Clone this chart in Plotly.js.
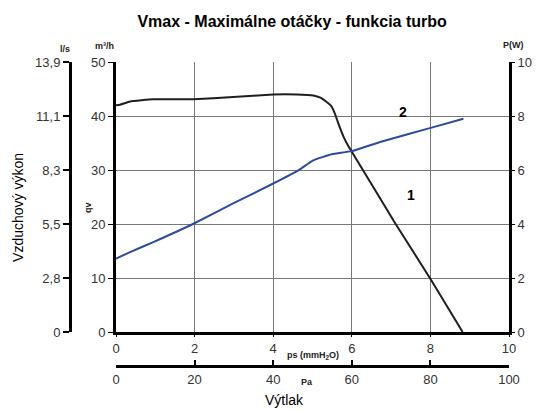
<!DOCTYPE html>
<html><head><meta charset="utf-8">
<script src="https://cdn.plot.ly/plotly-3.0.1.min.js"></script>
<style>html,body{margin:0;padding:0;background:#fff}#chart{width:536px;height:410px}</style>
</head><body><div id="chart"></div>
<script>
// Air flow curve (1): static pressure ps (mmH2O) vs qv (m3/h)
const flowPs = [0, 0.1, 0.36, 0.95, 1.97, 2.98, 4.0, 4.6, 5.02, 5.2, 5.36, 5.47, 5.55, 5.62, 5.7, 5.8, 5.9, 6.0, 7.1, 8.03, 8.82];
const flowQv = [42.0, 42.1, 42.7, 43.1, 43.1, 43.5, 44.0, 44.0, 43.8, 43.4, 42.6, 41.9, 40.8, 39.4, 37.8, 36.0, 34.6, 33.4, 20.2, 9.5, 0];
// Power curve (2): ps (mmH2O) vs P (W)
const powerPs = [0, 0.36, 0.95, 1.97, 2.98, 4.0, 4.64, 5.02, 5.49, 6.0, 6.72, 8.03, 8.84];
const powerW = [2.72, 2.96, 3.33, 4.01, 4.76, 5.5, 5.99, 6.36, 6.58, 6.70, 7.04, 7.57, 7.9];
// Axis tick labels
const qvTicks = [0, 10, 20, 30, 40, 50];
const lsTickText = ["0", "2,8", "5,5", "8,3", "11,1", "13,9"];
const psTicks = [0, 2, 4, 6, 8, 10];
const paTicks = [0, 20, 40, 60, 80, 100];
const pwTicks = [0, 2, 4, 6, 8, 10];

const FONT = "Liberation Sans, Arial, sans-serif";
const tickFont = {family: FONT, size: 13, color: "#333"};
const dom = [34/304, 1];

const traces = [
  {x: flowPs, y: flowQv, type: "scatter", mode: "lines", xaxis: "x", yaxis: "y",
   line: {color: "#1e1e1e", width: 2, shape: "spline", smoothing: 0.3}, showlegend: false, hoverinfo: "skip"},
  {x: powerPs, y: powerW, type: "scatter", mode: "lines", xaxis: "x", yaxis: "y2",
   line: {color: "#2b4c9b", width: 2, shape: "spline", smoothing: 0.4}, showlegend: false, hoverinfo: "skip"},
  // invisible helper trace so the secondary Pa and l/s axes are drawn
  {x: paTicks, y: qvTicks, type: "scatter", mode: "markers", xaxis: "x2", yaxis: "y3",
   marker: {opacity: 0}, showlegend: false, hoverinfo: "skip"}
];

function ann(text, x, y, size, extra) {
  return Object.assign({text: text, xref: "paper", yref: "paper", x: x, y: y, showarrow: false,
    xanchor: "center", yanchor: "middle", font: {family: FONT, size: size, color: size < 12 ? "#222" : "#000"}}, extra || {});
}

const layout = {
  width: 536, height: 410,
  margin: {l: 60, r: 27, t: 62, b: 44},
  paper_bgcolor: "#fff", plot_bgcolor: "#fff",
  font: {family: FONT},
  title: {text: "<b>Vmax - Maximálne otáčky - funkcia turbo</b>", font: {family: FONT, size: 16, color: "#000"},
          x: 0.545, xanchor: "center", y: 0.948, yanchor: "middle", xref: "container", yref: "container"},
  xaxis: {domain: [56/449, 1], range: [0, 10], tickvals: psTicks, showgrid: true, gridcolor: "#777", gridwidth: 1,
          zeroline: false, showline: true, linecolor: "#000", linewidth: 3, ticks: "outside", ticklen: 2, tickcolor: "#000",
          tickfont: tickFont, anchor: "y"},
  xaxis2: {domain: [56/449, 1], range: [0, 100], tickvals: paTicks, overlaying: "x", anchor: "free", position: 0, side: "bottom",
           showgrid: false, zeroline: false, showline: true, linecolor: "#000", linewidth: 3, ticks: "inside", ticklen: 5,
           tickwidth: 2, tickcolor: "#000", tickfont: tickFont},
  yaxis: {domain: dom, range: [0, 50], tickvals: qvTicks, showgrid: true, gridcolor: "#777", gridwidth: 1, zeroline: false,
          showline: true, linecolor: "#000", linewidth: 3, ticks: "outside", ticklen: 5, tickcolor: "#000", tickfont: tickFont,
          anchor: "x"},
  yaxis2: {domain: dom, range: [0, 10], tickvals: pwTicks, overlaying: "y", side: "right", anchor: "x", showgrid: false,
           zeroline: false, showline: true, linecolor: "#000", linewidth: 3, ticks: "outside", ticklen: 3, tickcolor: "#000",
           tickfont: tickFont},
  yaxis3: {domain: dom, range: [0, 50], tickvals: qvTicks, ticktext: lsTickText, overlaying: "y", side: "left", anchor: "free",
           position: 10/449, showgrid: false, zeroline: false, showline: true, linecolor: "#000", linewidth: 3,
           ticks: "outside", ticklen: 6, tickwidth: 2, tickcolor: "#000", tickfont: tickFont},
  annotations: [
    ann("<b>ps (mmH<sub>2</sub>O)</b>", 0.5635, 0.033, 9),
    ann("<b>Pa</b>", 0.550, -0.053, 9),
    ann("Výtlak", 0.501, -0.112, 14),
    ann("Vzduchový výkon", -0.0935, 0.52, 14, {textangle: -90}),
    ann("<b>qv</b>", 0.0624, 0.52, 9, {textangle: -90}),
    ann("<b>l/s</b>", 0.011, 1.043, 9),
    ann("<b>m³/h</b>", 0.10, 1.053, 9),
    ann("<b>P(W)</b>", 1.011, 1.056, 9),
    {text: "<b>2</b>", xref: "x", yref: "y", x: 7.3, y: 40.7, showarrow: false, xanchor: "center", yanchor: "middle",
     font: {family: FONT, size: 14, color: "#000"}},
    {text: "<b>1</b>", xref: "x", yref: "y", x: 7.5, y: 25.3, showarrow: false, xanchor: "center", yanchor: "middle",
     font: {family: FONT, size: 14, color: "#000"}}
  ]
};

Plotly.newPlot("chart", traces, layout, {displayModeBar: false, staticPlot: true});
</script>
</body></html>
